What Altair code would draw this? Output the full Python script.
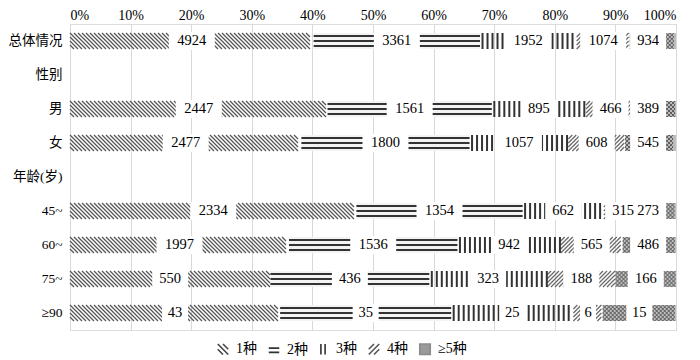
import altair as alt
import pandas as pd

# ---- data ----
groups = ["总体情况", "男", "女", "45~", "60~", "75~", "≥90"]
rows = ["总体情况", "性别", "男", "女", "年龄(岁)", "45~", "60~", "75~", "≥90"]
types = ["1种", "2种", "3种", "4种", "≥5种"]
v1 = [4924, 2447, 2477, 2334, 1997, 550, 43]
v2 = [3361, 1561, 1800, 1354, 1536, 436, 35]
v3 = [1952, 895, 1057, 662, 942, 323, 25]
v4 = [1074, 466, 608, 315, 565, 188, 6]
v5 = [934, 389, 545, 273, 486, 166, 15]
tick_values = [0, 10, 20, 30, 40, 50, 60, 70, 80, 90, 100]

# ---- style ----
W = 606
H = 306
PX = 100.0 / W  # percent of axis per pixel
SERIF = "Liberation Serif, Noto Sans CJK SC"
BAR = 16

records = []
for ti, (t, vals) in enumerate(zip(types, [v1, v2, v3, v4, v5])):
    for g, v in zip(groups, vals):
        records.append({"group": g, "type": t, "order": ti, "value": v})
df = pd.DataFrame(records)

xscale = alt.Scale(domain=[0, 100], nice=False, zero=False)
xaxis = alt.Axis(orient="top", values=tick_values, labelExpr="datum.value + '%'",
                 grid=True, gridColor="#d9d9d9", gridWidth=1, domain=False, ticks=False,
                 labelFont=SERIF, labelFontSize=14, labelColor="#000", labelPadding=2,
                 title=None)
yscale = alt.Scale(domain=rows, paddingInner=0, paddingOuter=0)
yaxis = alt.Axis(labelFont=SERIF, labelFontSize=13.5, labelColor="#000", labelPadding=8,
                 ticks=False, domain=False, grid=False, labelLimit=0, title=None,
                 labelExpr="datum.value == '性别' ? '性别\u3000' : datum.value")


def X(field):
    return alt.X(f"{field}:Q", scale=xscale, axis=xaxis, title=None)


def Y():
    return alt.Y("group:N", scale=yscale, axis=yaxis, title=None)


base = (alt.Chart(df)
        .transform_joinaggregate(total="sum(value)", groupby=["group"])
        .transform_calculate(pct="100 * datum.value / datum.total")
        .transform_stack(stack="pct", groupby=["group"], as_=["x0", "x1"],
                         sort=[alt.SortField("order", order="ascending")])
        .transform_calculate(mid="(datum.x0 + datum.x1) / 2"))

# background fills (2种 faint, ≥5种 gray)
bg = (base.transform_filter("datum.type == '2种' || datum.type == '≥5种'")
      .mark_bar(size=BAR)
      .encode(x=X("x0"), x2="x1", y=Y(),
              color=alt.condition("datum.type == '≥5种'", alt.value("#bdbdbd"), alt.value("#f3f3f3"))))

PATH_BACK = "M-1,-4L1,-2M-1,-2L1,0M-1,0L1,2M-1,2L1,4"
PATH_FWD = "M-1,-2L1,-4M-1,0L1,-2M-1,2L1,0M-1,4L1,2"


def tiles(tname, path, color, sw):
    step = 4 * PX
    half = 2 * PX
    return (base.transform_filter(f"datum.type == '{tname}'")
            .transform_calculate(pos=f"sequence(datum.x0 + {half}, datum.x1 - {half} + 0.0001, {step})")
            .transform_flatten(["pos"])
            .mark_point(shape=path, size=16, filled=False, strokeWidth=sw, color=color, opacity=1)
            .encode(x=X("pos"), y=Y()))


hatch1 = tiles("1种", PATH_BACK, "#555555", 1.3)
hatch4 = tiles("4种", PATH_FWD, "#6a6a6a", 1.3)
hatch5 = tiles("≥5种", PATH_BACK + PATH_FWD, "#5a5a5a", 1.0)

step3 = 5 * PX
vlines = (base.transform_filter("datum.type == '3种'")
          .transform_calculate(pos=f"sequence(datum.x0 + {step3 / 2}, datum.x1, {step3})")
          .transform_flatten(["pos"])
          .mark_tick(orient="vertical", size=BAR, thickness=2, color="#333333", opacity=1)
          .encode(x=X("pos"), y=Y()))

hlines = [
    base.transform_filter("datum.type == '2种'")
    .mark_bar(size=2, yOffset=off, color="#333333")
    .encode(x=X("x0"), x2="x1", y=Y())
    for off in (-5, 0, 5)
]

lab = base.transform_calculate(
    n="length(toString(datum.value))",
    hw=f"(3 + 5 * datum.n) * {PX}",
    lx="datum.type == '≥5种' ? min(datum.mid, 95.4) : datum.mid",
    lo="datum.lx - datum.hw",
    hi="datum.lx + datum.hw",
)
boxes = lab.mark_bar(size=BAR + 2, color="white").encode(x=X("lo"), x2="hi", y=Y())
texts = lab.mark_text(font=SERIF, fontSize=14.5, color="#000").encode(
    x=X("lx"), y=Y(), text=alt.Text("value:Q", format="d"))

# legend (custom symbols)
L_PATHS = [
    "M-1,-1L1,1M-1,0L0,1M0,-1L1,0",
    "M-1,-0.35L1,-0.35M-1,0.45L1,0.45",
    "M-0.4,-1L-0.4,1M0.4,-1L0.4,1",
    "M-1,1L1,-1M-1,0L0,-1M0,1L1,0",
    "M-1,-1L1,-1L1,1L-1,1Z",
]
leg = alt.Legend(orient="none", legendX=146, legendY=H + 12, direction="horizontal",
                 title=None, labelFont=SERIF, labelFontSize=14, labelColor="#000",
                 symbolSize=110, symbolStrokeWidth=1.6, labelOffset=6,
                 columnPadding=8, padding=0, symbolOpacity=1)
legend_layer = (alt.Chart(pd.DataFrame({"type": types}))
                .transform_filter("false")
                .mark_point(strokeWidth=1.6, opacity=1)
                .encode(shape=alt.Shape("type:N", scale=alt.Scale(domain=types, range=L_PATHS), legend=leg),
                        fill=alt.Fill("type:N", scale=alt.Scale(domain=types,
                                      range=["transparent"] * 4 + ["#9a9a9a"]), legend=leg),
                        stroke=alt.Stroke("type:N", scale=alt.Scale(domain=types,
                                          range=["#444444", "#333333", "#333333", "#555555", "#8a8a8a"]),
                                          legend=leg)))

chart = (alt.layer(bg, hatch1, hatch4, hatch5, vlines, *hlines, boxes, texts, legend_layer)
         .properties(width=W, height=H, padding={"left": 0, "top": 0, "right": 2, "bottom": 0})
         .configure_view(stroke=None)
         .configure(background="white"))

chart.save("out.html", embed_options={"renderer": "svg", "actions": False})
